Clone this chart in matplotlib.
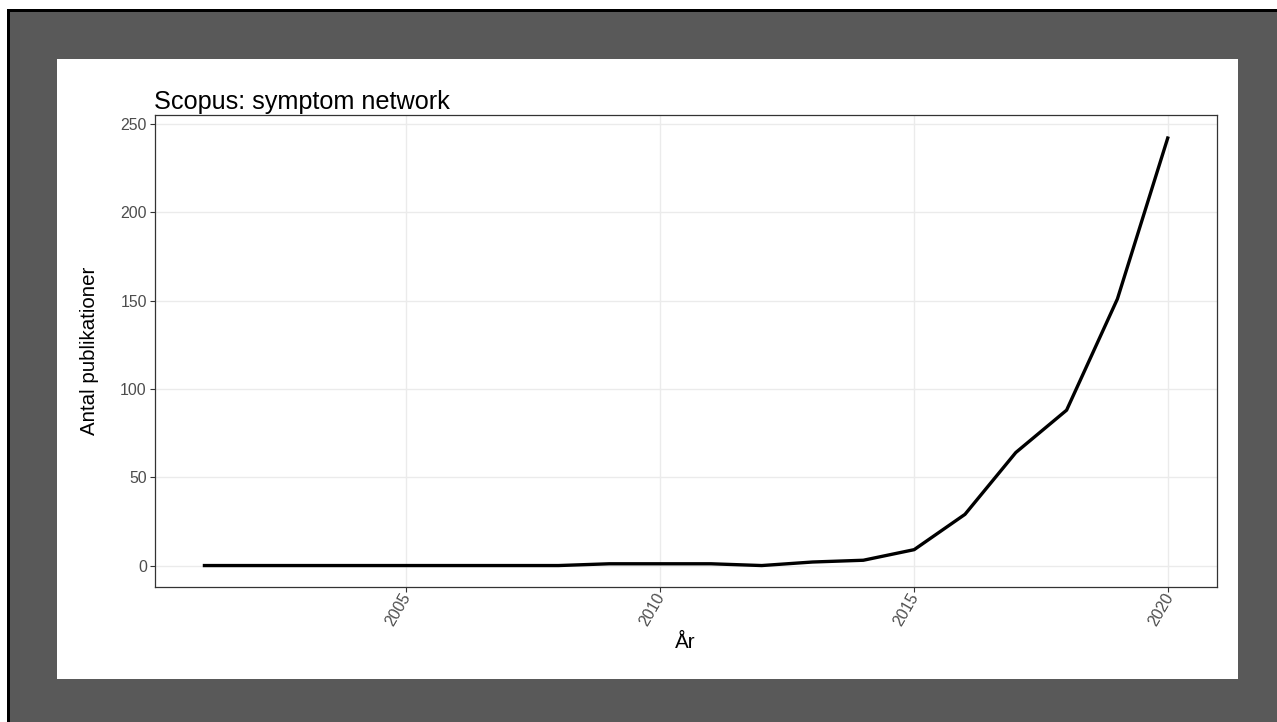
import matplotlib
matplotlib.use("Agg")
import matplotlib.pyplot as plt
from matplotlib.patches import Rectangle

years = list(range(2001, 2021))
counts = [0, 0, 0, 0, 0, 0, 0, 0, 1, 1, 1, 0, 2, 3, 9, 29, 64, 88, 151, 243]
x_ticks = [2005, 2010, 2015, 2020]
y_ticks = [0, 50, 100, 150, 200, 250]

plt.rcParams['font.family'] = ['Liberation Sans', 'DejaVu Sans']

W, H = 1277, 722
fig = plt.figure(figsize=(W / 100, H / 100), dpi=100, facecolor='white')


def px_rect(x0, y0, x1, y1, color):
    # pixel box (top-left origin) -> figure fraction rectangle
    fig.add_artist(Rectangle((x0 / W, 1 - y1 / H), (x1 - x0) / W, (y1 - y0) / H,
                             transform=fig.transFigure, facecolor=color,
                             edgecolor='none', zorder=-10))


px_rect(7, 9, W, H, 'black')
px_rect(10, 12, W, H, '#595959')
px_rect(57, 59, 1238, 679, 'white')

left, right, top, bottom = 154.5, 1216.5, 115, 587
ax = fig.add_axes([left / W, 1 - bottom / H, (right - left) / W, (bottom - top) / H])

ax.plot(years, counts, color='black', linewidth=2.4, solid_capstyle='butt', zorder=3)

span = max(years) - min(years)
ax.set_xlim(min(years) - 0.05 * span, max(years) + 0.05 * span)
ax.set_ylim(-0.05 * max(counts), max(counts) * 1.05)
ax.set_xticks(x_ticks)
ax.set_yticks(y_ticks)

ax.grid(True, color='#EBEBEB', linewidth=1.0, zorder=0)
ax.set_axisbelow(True)
for s in ax.spines.values():
    s.set_color('#333333')
    s.set_linewidth(0.9)

ax.tick_params(axis='both', colors='#333333', length=3.5, width=0.8,
               labelsize=11.4, labelcolor='#4D4D4D', pad=2)
for lab in ax.get_xticklabels():
    lab.set_rotation(60)
    lab.set_ha('right')
    lab.set_va('center_baseline')
    lab.set_rotation_mode('anchor')
ax.tick_params(axis='x', pad=1)

ax.set_title('Scopus: symptom network', loc='left', fontsize=18.2, pad=4, color='black')
ax.set_xlabel('År', fontsize=14.8, labelpad=3)
ax.set_ylabel('Antal publikationer', fontsize=14.8, labelpad=15)

fig.savefig('out.png', dpi=100, facecolor=fig.get_facecolor())
